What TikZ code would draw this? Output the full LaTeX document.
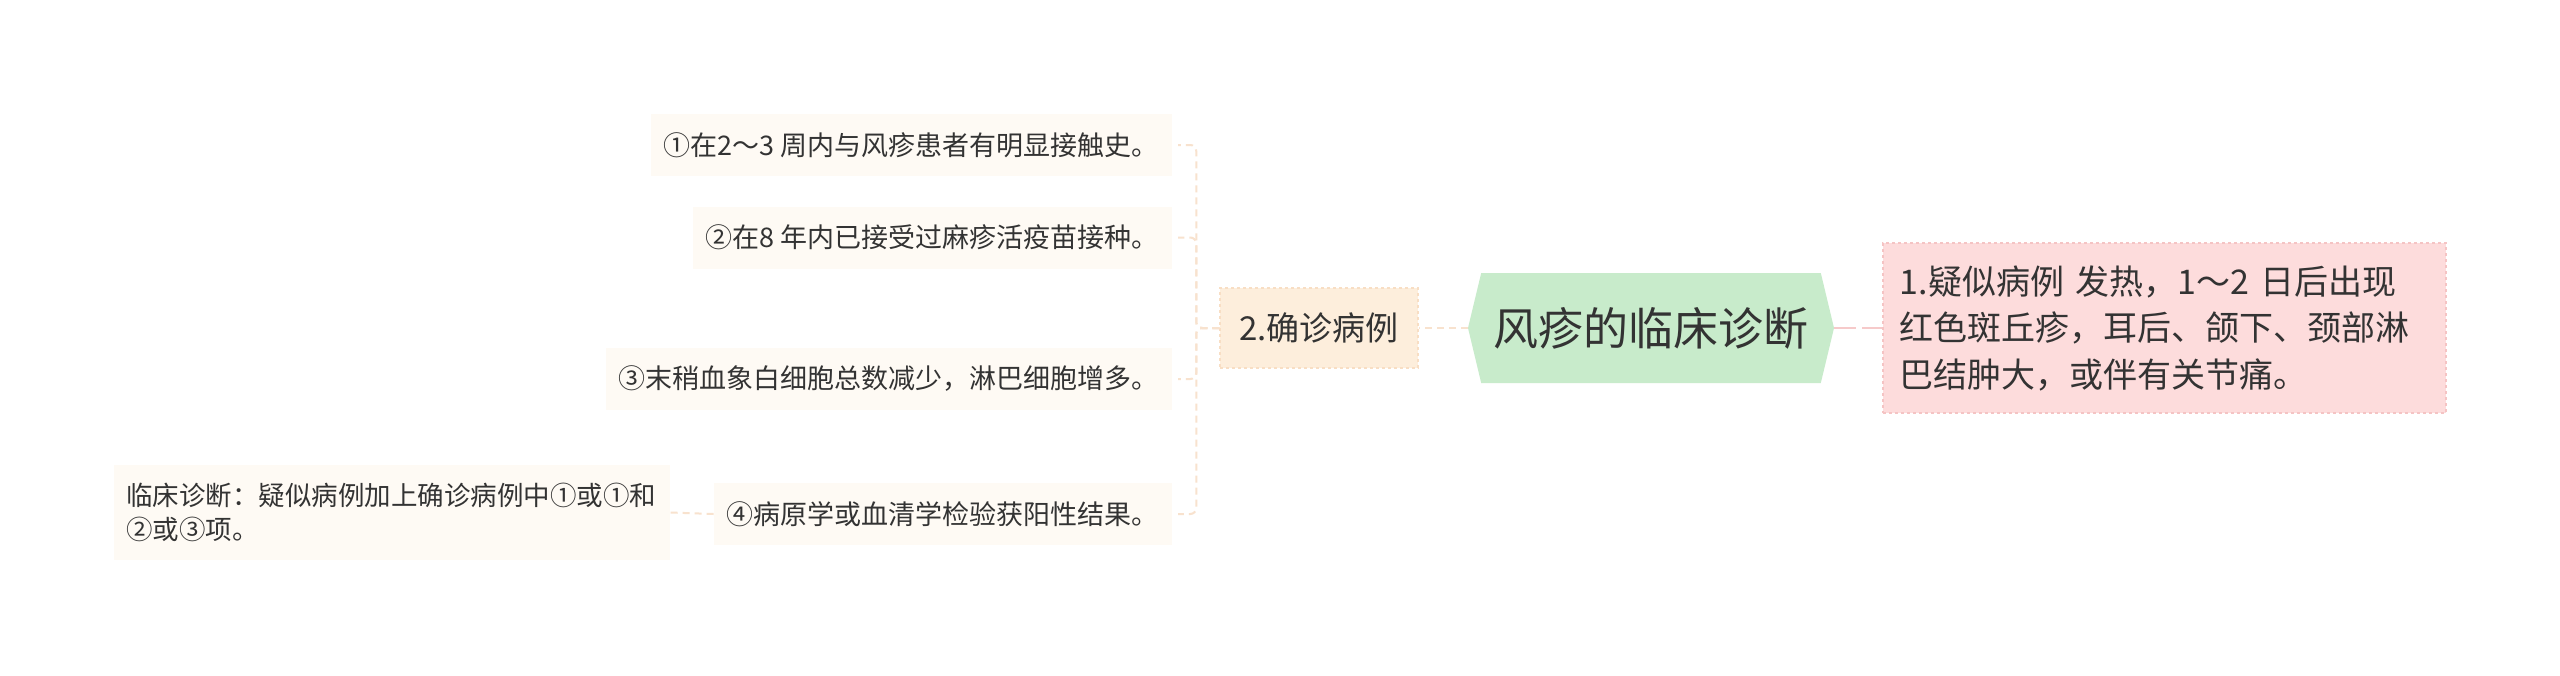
\documentclass[tikz,border=0pt]{standalone}
\usepackage{fontspec}
\setmainfont{Noto Sans CJK SC}
\usetikzlibrary{shapes.symbols}
\definecolor{rootgreen}{HTML}{C8EBCB}
\definecolor{suspink}{HTML}{FDDCDC}
\definecolor{susedge}{HTML}{F5C4C4}
\definecolor{confpeach}{HTML}{FDEEDC}
\definecolor{confedge}{HTML}{F8DEC4}
\definecolor{leafcream}{HTML}{FEFAF4}
\definecolor{textgray}{HTML}{333333}
\definecolor{peachline}{HTML}{F8E2CE}
\definecolor{pinkline}{HTML}{F6CACA}
\tikzset{
	rootbox/.style={signal, signal to=west and east, signal pointer angle=153, fill=rootgreen, inner sep=0pt, minimum width=366pt, minimum height=110pt, text=textgray, font=\fontsize{45}{54}\selectfont},
	susbox/.style={fill=suspink, draw=susedge, dashed, line width=1.5pt, text=textgray, font=\fontsize{34}{46.5}\selectfont, text width=529pt, align=left, inner xsep=17pt, minimum height=170pt, anchor=west},
	confbox/.style={fill=confpeach, draw=confedge, dashed, line width=1.5pt, text=textgray, font=\fontsize{33}{40}\selectfont, minimum width=198pt, minimum height=80pt},
	leafbox/.style={fill=leafcream, text=textgray, font=\fontsize{27}{34}\selectfont, inner xsep=13pt, minimum height=62pt, anchor=east},
	clinbox/.style={fill=leafcream, text=textgray, font=\fontsize{26.5}{34}\selectfont, text width=532pt, align=left, inner xsep=12pt, minimum height=95pt},
	peachlink/.style={draw=peachline, line width=2pt, dash pattern=on 7pt off 5pt},
	pinklink/.style={draw=pinkline, line width=2.5pt, dash pattern=on 22pt off 6pt},
}
\begin{document}
\begin{tikzpicture}[x=1pt, y=-1pt]
	\useasboundingbox[fill=white] (0,0) rectangle (2560,675);
	\node[rootbox] (root) at (1651,328) {风疹的临床诊断};
	\node[susbox] (sus) at (1882,328) {1.疑似病例 发热，1～2 日后出现\\红色斑丘疹，耳后、颌下、颈部淋\\巴结肿大，或伴有关节痛。};
	\node[confbox] (conf) at (1319,328) {2.确诊病例};
	\node[leafbox] (l1) at (1172,145) {①在2～3 周内与风疹患者有明显接触史。};
	\node[leafbox] (l2) at (1172,237.5) {②在8 年内已接受过麻疹活疫苗接种。};
	\node[leafbox] (l3) at (1172,379) {③末稍血象白细胞总数减少，淋巴细胞增多。};
	\node[leafbox] (l4) at (1172,514) {④病原学或血清学检验获阳性结果。};
	\node[clinbox] (clin) at (392,512.5) {临床诊断：疑似病例加上确诊病例中①或①和\\②或③项。};
	\draw[pinklink] (root.east) -- (sus.west);
	\draw[peachlink] (root.west) -- (conf.east);
	\foreach \leaf in {l1,l2,l3,l4}
		\draw[peachlink, rounded corners=6pt, shorten >=6pt] (conf.west) -- ++(-23,0) |- (\leaf.east);
	\draw[peachlink] (l4.west) -- (clin.east);
\end{tikzpicture}
\end{document}
